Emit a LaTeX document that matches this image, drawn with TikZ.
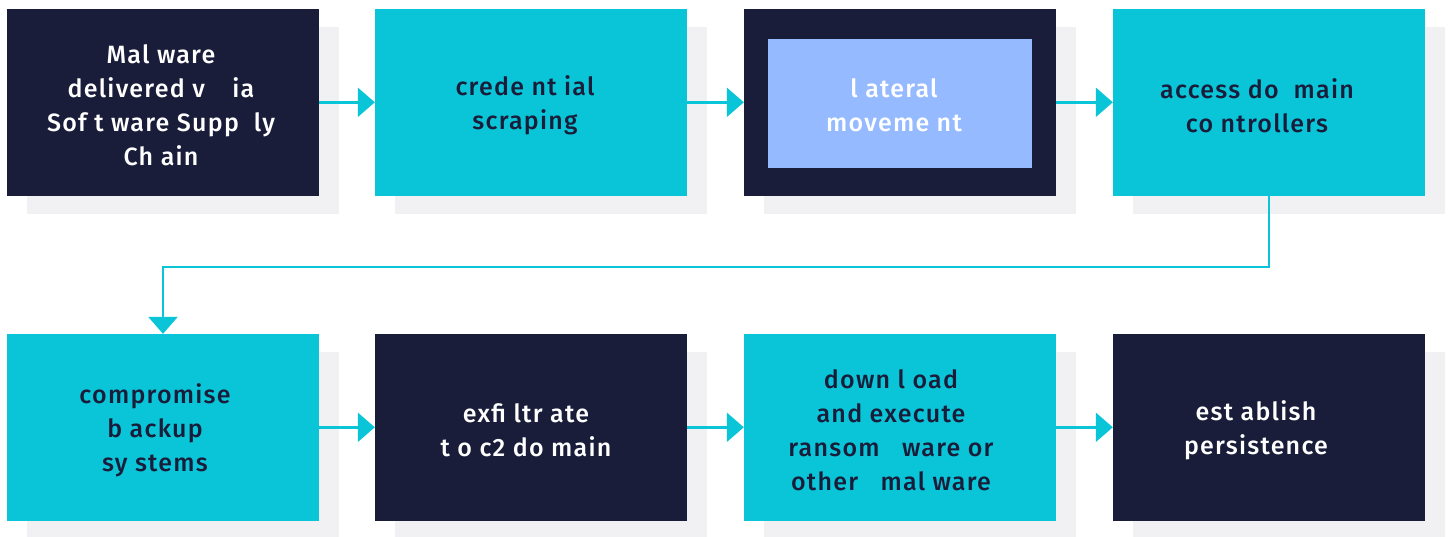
\documentclass[tikz,border=0pt]{standalone}
\usepackage{fontspec}
\setmainfont{Fira Sans}[UprightFont={* Medium}, LetterSpace=5]
\usetikzlibrary{arrows.meta}
\definecolor{navy}{HTML}{1A1D3A}
\definecolor{cyanb}{HTML}{0AC5D8}
\definecolor{lblue}{HTML}{96BAFF}
\definecolor{shade}{HTML}{F1F1F3}
\tikzset{
  box/.style={rectangle, minimum width=312pt, minimum height=186.5pt, inner sep=0pt},
  navybox/.style={box, fill=navy},
  cyanbox/.style={box, fill=cyanb},
  shadowbox/.style={box, fill=shade},
  innerbox/.style={rectangle, minimum width=264pt, minimum height=129pt, inner sep=0pt, fill=lblue},
  txt/.style={inner sep=0pt, align=center, font=\fontsize{25}{34}\selectfont},
  txtw/.style={txt, text=white},
  txtd/.style={txt, text=navy},
  arr/.style={draw=cyanb, line width=2.5pt, -{Triangle[width=29pt,length=17pt]}}
}
\begin{document}
\begin{tikzpicture}[x=1pt,y=-1pt]
\useasboundingbox (0,0) rectangle (1449,537);
% shadows
\foreach \cx/\nm in {163/s1,531/s2,900/s3,1269/s4} {
  \node[shadowbox] (\nm) at (\cx+20,102.3+18) {};
}
\begin{scope}
\clip (0,0) rectangle (1449,537);
\foreach \cx/\nm in {163/s5,531/s6,900/s7,1269/s8} {
  \node[shadowbox] (\nm) at (\cx+20,427.3+18) {};
}
\end{scope}
% row 1
\node[navybox] (b1) at (163,102.3) {};
\node[cyanbox] (b2) at (531,102.3) {};
\node[navybox] (b3) at (900,102.3) {};
\node[innerbox] (b3i) at (900,103.3) {};
\node[cyanbox] (b4) at (1269,102.3) {};
% row 2
\node[cyanbox] (b5) at (163,427.3) {};
\node[navybox] (b6) at (531,427.3) {};
\node[cyanbox] (b7) at (900,427.3) {};
\node[navybox] (b8) at (1269,427.3) {};
% texts
\node[txtw] (t1) at ([xshift=-2pt,yshift=-3pt]b1.center) {Mal ware\\delivered v\hspace{0.8em} ia\\Sof t ware Supp\hspace{0.3em} ly\\Ch ain};
\node[txtd] (t2) at ([xshift=-6pt,yshift=-3pt]b2.center) {crede nt ial\\scraping};
\node[txtw] (t3) at ([xshift=-6pt,yshift=-3pt]b3.center) {l ateral\\moveme nt};
\node[txtd] (t4) at ([xshift=-12pt,yshift=-3pt]b4.center) {access do\hspace{0.3em} main\\co ntrollers};
\node[txtd] (t5) at ([xshift=-8pt,yshift=-3pt]b5.center) {compromise\\b ackup\\sy stems};
\node[txtw] (t6) at ([xshift=-5pt,yshift=-3pt]b6.center) {exfi ltr ate\\t o c2 do main};
\node[txtd] (t7) at ([xshift=-9pt,yshift=-3pt]b7.center) {down l oad\\and execute\\ransom\hspace{0.6em} ware or\\other\hspace{0.6em} mal ware};
\node[txtw] (t8) at ([xshift=-13pt,yshift=-3pt]b8.center) {est ablish\\persistence};
% connectors
\draw[arr] (b1) -- (b2);
\draw[arr] (b2) -- (b3);
\draw[arr] (b3) -- (b4);
\coordinate (turn) at (1269,267);
\draw[arr] (b4.south) -- (turn) -| (b5.north);
\draw[arr] (b5) -- (b6);
\draw[arr] (b6) -- (b7);
\draw[arr] (b7) -- (b8);
\end{tikzpicture}
\end{document}
